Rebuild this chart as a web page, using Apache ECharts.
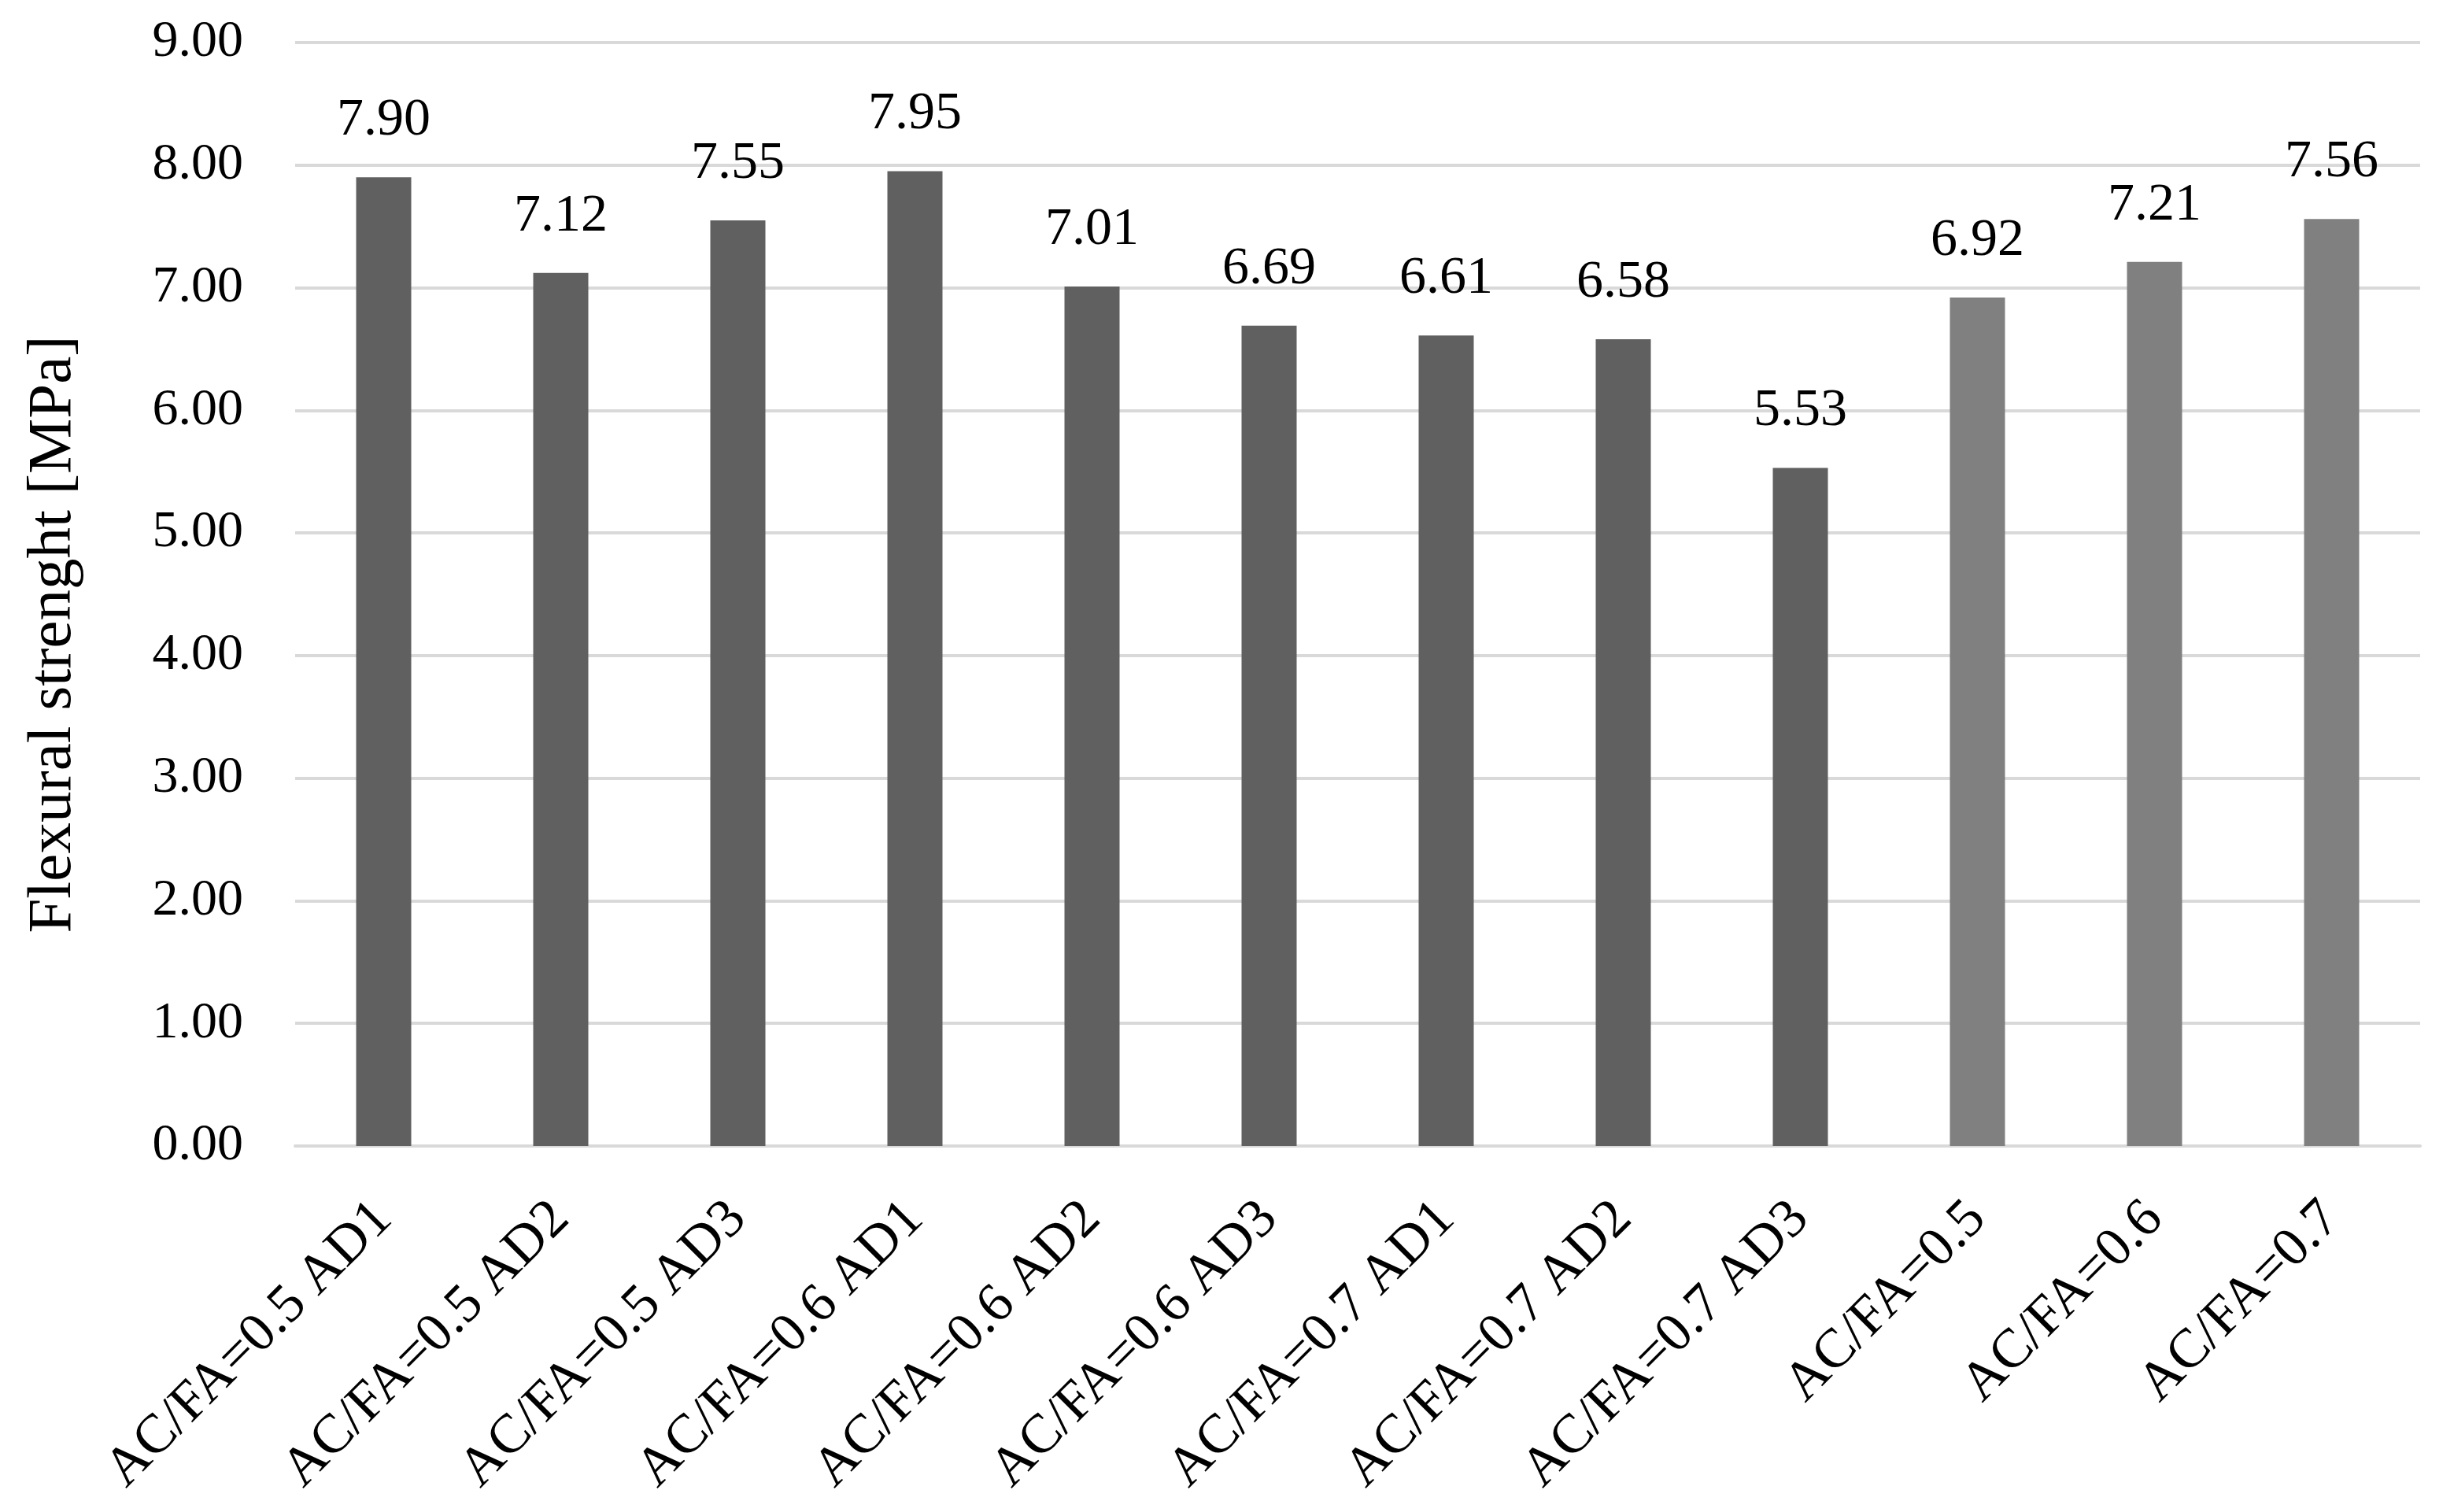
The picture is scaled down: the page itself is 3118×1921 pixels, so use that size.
<!DOCTYPE html>
<html>
<head>
<meta charset="utf-8">
<script src="https://cdn.jsdelivr.net/npm/echarts@6/dist/echarts.min.js"></script>
<style>
html,body{margin:0;padding:0;background:#fff;}
#chart{width:3118px;height:1921px;}
</style>
</head>
<body>
<div id="chart"></div>
<script>
const categories = [
  'AC/FA=0.5 AD1','AC/FA=0.5 AD2','AC/FA=0.5 AD3',
  'AC/FA=0.6 AD1','AC/FA=0.6 AD2','AC/FA=0.6 AD3',
  'AC/FA=0.7 AD1','AC/FA=0.7 AD2','AC/FA=0.7 AD3',
  'AC/FA=0.5','AC/FA=0.6','AC/FA=0.7'
];
const flexuralStrength = [7.90, 7.12, 7.55, 7.95, 7.01, 6.69, 6.61, 6.58, 5.53, 6.92, 7.21, 7.56];
const withAdditive = [true, true, true, true, true, true, true, true, true, false, false, false];
const yTicks = ['0.00','1.00','2.00','3.00','4.00','5.00','6.00','7.00','8.00','9.00'];
const yTitle = 'Flexural strenght [MPa]';

const FONT = '"Liberation Serif", "Times New Roman", serif';
const chart = echarts.init(document.getElementById('chart'), null, {renderer: 'canvas'});
chart.setOption({
  backgroundColor: '#ffffff',
  animation: false,
  grid: {left: 375, right: 43, top: 54, bottom: 465, containLabel: false},
  xAxis: {
    type: 'category',
    data: categories,
    axisLine: {show: true, lineStyle: {color: '#d9d9d9', width: 4}},
    axisTick: {show: false},
    axisLabel: {
      interval: 0, rotate: 45, margin: 82,
      fontFamily: FONT, fontSize: 70, color: '#000'
    },
    splitLine: {show: false}
  },
  yAxis: {
    type: 'value',
    min: 0, max: 9, interval: 1,
    axisLine: {show: false},
    axisTick: {show: false},
    axisLabel: {
      margin: 66, fontFamily: FONT, fontSize: 66, color: '#000',
      formatter: function (v) { return yTicks[Math.round(v)]; }
    },
    splitLine: {show: true, lineStyle: {color: '#d9d9d9', width: 4}}
  },
  graphic: [{
    type: 'text',
    x: 68, y: 806,
    rotation: Math.PI / 2,
    style: {
      text: yTitle,
      fontFamily: FONT, fontSize: 79, fill: '#000',
      textAlign: 'center', textVerticalAlign: 'middle'
    }
  }],
  series: [{
    type: 'bar',
    data: flexuralStrength,
    barWidth: 70,
    itemStyle: {
      color: function (p) { return withAdditive[p.dataIndex] ? '#606060' : '#808080'; }
    },
    label: {
      show: true, position: 'top', distance: 38,
      fontFamily: FONT, fontSize: 68, color: '#000',
      formatter: function (p) { return p.value.toFixed(2); }
    }
  }]
});
</script>
</body>
</html>
